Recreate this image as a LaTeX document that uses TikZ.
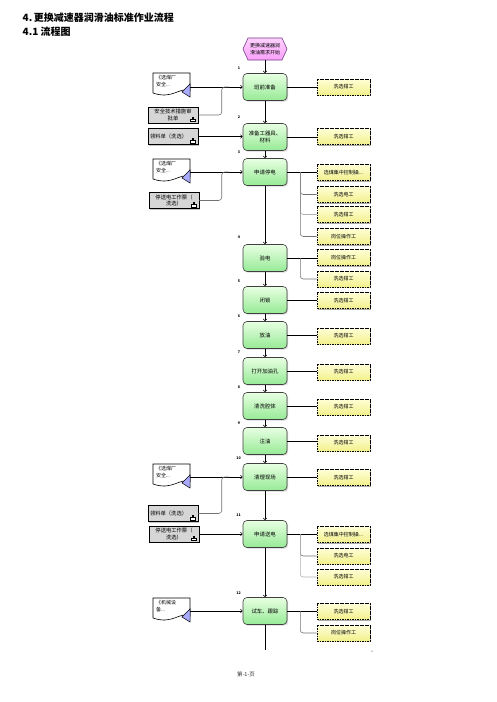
\documentclass[tikz,border=0pt]{standalone}
\usepackage{fontspec}
\setmainfont{Noto Sans CJK SC}
\usetikzlibrary{arrows.meta,shadows,calc}
\definecolor{greenT}{RGB}{232,255,226}
\definecolor{greenB}{RGB}{150,234,150}
\definecolor{yelT}{RGB}{255,255,215}
\definecolor{yelB}{RGB}{242,240,140}
\definecolor{pinkT}{RGB}{255,210,255}
\definecolor{pinkB}{RGB}{250,160,250}
\definecolor{pinkD}{RGB}{120,60,140}
\definecolor{triB}{RGB}{170,170,255}
\definecolor{grayF}{RGB}{214,214,214}
\newcommand{\mydoc}[2]{%
  \begin{scope}[shift={(#1,#2)}]
    \draw[line width=0.6pt, fill=white] (-18,-12) -- (19,-12) -- (19,6)
      .. controls (9,1) and (2,15) .. (-18,8) -- cycle;
    \draw[line width=0.5pt, fill=triB] (19,-1) -- (19,12) -- (11,7) -- cycle;
  \end{scope}}
\newcommand{\myicon}[1]{%
  \draw[line width=0.35pt, fill=white] ($(#1.south east)+(-8,-1.8)$) rectangle ($(#1.south east)+(-3,-4.2)$);
  \draw[line width=0.35pt] ($(#1.south east)+(-6.5,-4.2)$) -- ($(#1.south east)+(-6.5,-6.5)$) -- ($(#1.south east)+(-5,-6.5)$) -- ($(#1.south east)+(-5,-4.2)$);}
\begin{document}
\begin{tikzpicture}[x=1pt,y=-1pt,
  every node/.style={inner sep=0.5pt, align=center},
  stepbox/.style={rounded corners=4pt, draw=black!75, line width=0.6pt,
    minimum width=44pt, minimum height=27pt, top color=greenT, bottom color=greenB,
    drop shadow={shadow xshift=1.2pt, shadow yshift=-1.2pt, fill=black!30},
    font=\fontsize{5.4}{6.8}\selectfont},
  rolebox/.style={draw=black, line width=0.8pt, dash pattern=on 1.6pt off 0.9pt,
    minimum width=53pt, minimum height=16pt, top color=yelT, bottom color=yelB,
    drop shadow={shadow xshift=1.2pt, shadow yshift=-1.2pt, fill=black!65},
    font=\fontsize{5}{6}\selectfont},
  graybox/.style={draw=black, line width=0.6pt, fill=grayF, minimum width=50pt,
    minimum height=16pt, text width=46pt,
    drop shadow={shadow xshift=1pt, shadow yshift=-1pt, fill=black!45},
    font=\fontsize{5.3}{6.3}\selectfont},
  docnode/.style={minimum width=38pt, minimum height=16pt, text width=30pt,
    align=left, font=\fontsize{5}{7.5}\selectfont},
  flow/.style={line width=0.6pt, -{Straight Barb[length=1.8pt,width=3.6pt]}},
  link/.style={line width=0.6pt},
  branch/.style={line width=0.6pt, draw=black!55, rounded corners=3pt},
  branchl/.style={line width=0.6pt, draw=black!30, rounded corners=3pt},
  numlbl/.style={font=\fontsize{3.6}{4}\selectfont\bfseries}
]
\useasboundingbox (0,0) rectangle (496,702);
\fill[white] (0,0) rectangle (496,702);

% title
\node[anchor=west, font=\fontsize{10}{12}\selectfont\bfseries] (t1) at (22,17.5) {4.\,更换减速器润滑油标准作业流程};
\node[anchor=west, font=\fontsize{10}{12}\selectfont\bfseries] (t2) at (22,31.5) {4.1 流程图};

% start hexagon
\draw[line width=0.6pt, draw=pinkD, top color=pinkT, bottom color=pinkB]
  (243,49) -- (248,38) -- (282,38) -- (287,49) -- (282,60) -- (248,60) -- cycle;
\node[minimum width=44pt, minimum height=22pt, font=\fontsize{5}{6.5}\selectfont] (start) at (265,49) {更换减速器润\\滑油需求开始};

% main steps
\node[stepbox] (s1) at (265,87) {班前准备};
\node[stepbox] (s2) at (265,137) {准备工器具、\\材料};
\node[stepbox] (s3) at (265,172) {申请停电};
\node[stepbox] (s4) at (265,258) {验电};
\node[stepbox] (s5) at (265,300) {闭锁};
\node[stepbox] (s6) at (265,335) {放油};
\node[stepbox] (s7) at (265,371) {打开加油孔};
\node[stepbox] (s8) at (265,406) {清洗腔体};
\node[stepbox] (s9) at (265,441) {注油};
\node[stepbox] (s10) at (265,477) {清理现场};
\node[stepbox] (s11) at (265,534) {申请送电};
\node[stepbox] (s12) at (265,611) {试车、跟踪};
\coordinate (endpt) at (265,650);

% step numbers
\node[numlbl] (n1) at (239,68) {1};
\node[numlbl] (n2) at (239,117) {2};
\node[numlbl] (n3) at (239,152) {3};
\node[numlbl] (n4) at (239,237) {4};
\node[numlbl] (n5) at (239,281) {5};
\node[numlbl] (n6) at (239,316) {6};
\node[numlbl] (n7) at (239,352) {7};
\node[numlbl] (n8) at (239,387) {8};
\node[numlbl] (n9) at (239,423) {9};
\node[numlbl] (n10) at (238.5,458) {10};
\node[numlbl] (n11) at (238.5,515) {11};
\node[numlbl] (n12) at (238.5,593) {12};

% roles
\node[rolebox] (r1) at (343.5,87) {洗选钳工};
\node[rolebox] (r2) at (343.5,136.5) {洗选钳工};
\node[rolebox] (r3a) at (343.5,172.5) {选煤集中控制操...};
\node[rolebox] (r3b) at (343.5,194.5) {洗选电工};
\node[rolebox] (r3c) at (343.5,214.5) {洗选钳工};
\node[rolebox] (r3d) at (343.5,236.5) {岗位操作工};
\node[rolebox] (r4a) at (343.5,257.5) {岗位操作工};
\node[rolebox] (r4b) at (343.5,279) {洗选钳工};
\node[rolebox] (r5) at (343.5,300.5) {洗选钳工};
\node[rolebox] (r6) at (343.5,336) {洗选钳工};
\node[rolebox] (r7) at (343.5,372) {洗选钳工};
\node[rolebox] (r8) at (343.5,407) {洗选钳工};
\node[rolebox] (r9) at (343.5,443) {洗选钳工};
\node[rolebox] (r10) at (343.5,477.5) {洗选钳工};
\node[rolebox] (r11a) at (343.5,534.5) {选煤集中控制操...};
\node[rolebox] (r11b) at (343.5,556) {洗选电工};
\node[rolebox] (r11c) at (343.5,577) {洗选钳工};
\node[rolebox] (r12a) at (343.5,611.5) {洗选钳工};
\node[rolebox] (r12b) at (343.5,633) {岗位操作工};

% left documents
\mydoc{171}{85}
\node[docnode] (d1) at (171,81) {《选煤厂\\安全...};
\mydoc{171}{171}
\node[docnode] (d3) at (171,167) {《选煤厂\\安全...};
\mydoc{171}{476}
\node[docnode] (d10) at (171,472) {《选煤厂\\安全...};
\mydoc{171}{610}
\node[docnode] (d12) at (171,606) {《机械设\\备...};

% gray boxes
\node[graybox] (g1) at (173,115) {安全技术措施审\\批单};
\myicon{g1}
\node[graybox, align=left] (g2) at (173,136.5) {领料单（洗选）};
\myicon{g2}
\node[graybox] (g3) at (174,200.5) {停送电工作票（\\洗选）};
\myicon{g3}
\node[graybox, align=left] (g10) at (173,513.5) {领料单（洗选）};
\myicon{g10}
\node[graybox] (g11) at (174,534) {停送电工作票（\\洗选）};
\myicon{g11}

% main flow
\draw[flow] (start.south) -- (s1.north);
\foreach \a/\b in {s1/s2,s2/s3,s3/s4,s4/s5,s5/s6,s6/s7,s7/s8,s8/s9,s9/s10,s10/s11,s11/s12}
  \draw[flow] (\a.south) -- (\b.north);
\draw[link] (s12.south) -- (endpt);

% roles links
\foreach \s/\r in {s1/r1,s2/r2,s3/r3a,s4/r4a,s5/r5,s6/r6,s7/r7,s8/r8,s9/r9,s10/r10,s11/r11a,s12/r12a}
  \draw[link] (\s.east) -- (\s.east -| \r.west);
\draw[branch] ($(s3.east)+(13,0)$) |- (r3b.west);
\draw[branchl] ($(s3.east)+(13,0)$) |- (r3c.west);
\draw[branch] ($(s3.east)+(13,0)$) |- (r3d.west);
\draw[branch] ($(s4.east)+(13,0)$) |- (r4b.west);
\draw[branch] ($(s11.east)+(13,0)$) |- (r11b.west);
\draw[branchl] ($(s11.east)+(13,0)$) |- (r11c.west);
\draw[branch] ($(s12.east)+(13,0)$) |- (r12b.west);

% inputs
\draw[flow] (s1.west -| d1.east) -- (s1.west);
\draw[branch] (g1.east) -| ($(s1.west)+(-21,0)$) -- ($(s1.west)+(-14,0)$);
\draw[flow] (g2.east) -- (g2.east -| s2.west);
\draw[flow] (s3.west -| d3.east) -- (s3.west);
\draw[branch] (g3.east) -| ($(s3.west)+(-21,0)$) -- ($(s3.west)+(-14,0)$);
\draw[flow] (s10.west -| d10.east) -- (s10.west);
\draw[branch] (g10.east) -| ($(s10.west)+(-21,0)$) -- ($(s10.west)+(-14,0)$);
\draw[flow] (g11.east) -- (g11.east -| s11.west);
\draw[flow] (s12.west -| d12.east) -- (s12.west);

% small mark and footer
\fill (372,651) circle (0.5);
\node[font=\fontsize{5.5}{6}\selectfont, text=black!80] (foot) at (246,674) {第-1-页};
\end{tikzpicture}
\end{document}
